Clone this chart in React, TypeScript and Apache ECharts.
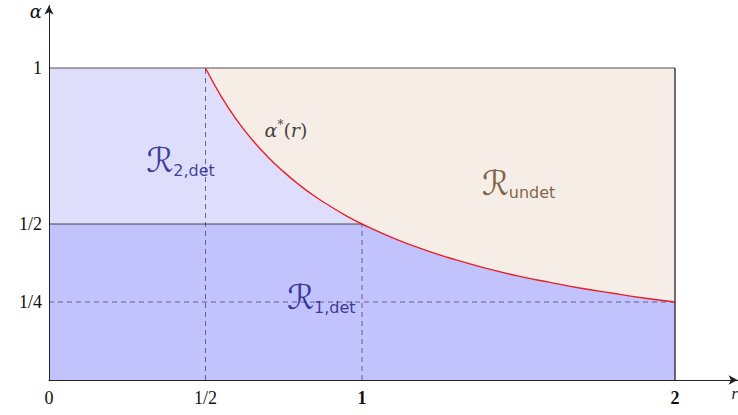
import React, { useEffect, useRef } from 'react';
import * as echarts from 'echarts';

// Threshold curve alpha*(r)
const rValues = [0.5, 0.55, 0.6, 0.65, 0.7, 0.75, 0.8, 0.85, 0.9, 0.95, 1, 1.1, 1.2, 1.3, 1.4, 1.5, 1.6, 1.7, 1.8, 1.9, 2];
const alphaStar = [1, 0.909, 0.833, 0.769, 0.714, 0.667, 0.625, 0.588, 0.556, 0.526, 0.5, 0.455, 0.417, 0.385, 0.357, 0.333, 0.313, 0.294, 0.278, 0.263, 0.25];

// Boundaries (data units)
const rMax = 2;
const rHalf = 0.5;
const rOne = 1;
const alphaTop = 1;
const alphaHalf = 0.5;
const alphaQuarter = 0.25;

// Tick labels
const xTickLabels: Record<string, string> = { '0': '0', '0.5': '1/2', '1': '{b|1}', '2': '{b|2}' };
const yTickLabels: Record<string, string> = { '0.25': '1/4', '0.5': '1/2', '1': '1' };

// Annotation anchors (data units)
const labelR2 = [0.42, 0.705];
const labelUndet = [1.5, 0.632];
const labelR1 = [0.87, 0.266];
const labelAlpha = [0.757, 0.8];

const SERIF = "'Liberation Serif', 'DejaVu Serif', serif";
const SERIF2 = "'DejaVu Serif', 'Liberation Serif', serif";
const SANS = "'DejaVu Sans', 'Noto Sans', sans-serif";
const SCRIPT = "'DejaVu Sans', 'DejaVu Serif', sans-serif";

export default function App() {
  const ref = useRef<HTMLDivElement>(null);
  useEffect(() => {
    if (!ref.current) return;
    const chart = echarts.init(ref.current, undefined, { renderer: 'svg' });
    const curve = rValues.map((r, i) => [r, alphaStar[i]]);
    const upperCurve = curve.filter((p) => p[0] <= rOne);
    const lowerCurve = curve.filter((p) => p[0] >= rOne);

    const lineBase = { type: 'line', showSymbol: false, symbol: 'none', silent: true, animation: false };
    const dashed = { color: '#55557a', width: 0.9, type: [5, 4] };

    const regionLabel = (sub: string, color: string) => ({
      show: true,
      position: 'inside',
      formatter: `{R|ℛ}{s|${sub}}`,
      rich: {
        R: { fontFamily: SCRIPT, fontSize: 34, color, lineHeight: 36 },
        s: { fontFamily: SANS, fontSize: 16, color, lineHeight: 15, verticalAlign: 'bottom' },
      },
    });

    chart.setOption({
      animation: false,
      grid: { left: 49, right: 0.4, top: 5.6, bottom: 35, containLabel: false, outerBoundsMode: 'none' },
      xAxis: {
        type: 'value', min: 0, max: 2.2, interval: 0.5, z: 10,
        splitLine: { show: false }, axisTick: { show: false },
        axisLine: { show: true, lineStyle: { color: '#222', width: 1 }, symbol: ['none', 'arrow'], symbolSize: [7, 9] },
        axisLabel: {
          margin: 9, fontFamily: SERIF, fontSize: 18, color: '#111',
          formatter: (v: number) => xTickLabels[String(v)] ?? '',
          rich: { b: { fontFamily: SERIF, fontSize: 18, fontWeight: 'bold', color: '#111' } },
        },
        name: 'r', nameLocation: 'end', nameGap: -3,
        nameTextStyle: { fontFamily: SERIF, fontStyle: 'italic', fontSize: 16, color: '#111', align: 'center', verticalAlign: 'top', padding: [5, 0, 0, 0] },
      },
      yAxis: {
        type: 'value', min: 0, max: 1.2, interval: 0.25, z: 10,
        splitLine: { show: false }, axisTick: { show: false },
        axisLine: { show: true, lineStyle: { color: '#222', width: 1 }, symbol: ['none', 'arrow'], symbolSize: [7, 9] },
        axisLabel: {
          margin: 7, fontFamily: SERIF, fontSize: 18, color: '#111',
          formatter: (v: number) => yTickLabels[String(v)] ?? '',
        },
        name: 'α', nameLocation: 'end', nameGap: -6,
        nameTextStyle: { fontFamily: SERIF2, fontStyle: 'italic', fontSize: 18, color: '#111', align: 'right', verticalAlign: 'middle', padding: [0, 7, 0, 0] },
      },
      series: [
        { ...lineBase, z: 1, data: [[rHalf, alphaTop], [rMax, alphaTop]], lineStyle: { width: 0 }, areaStyle: { color: '#f6ede6', opacity: 1 } },
        { ...lineBase, z: 2, data: [[0, alphaTop], [rHalf, alphaTop], ...upperCurve], lineStyle: { width: 0 }, areaStyle: { color: '#dedefc', opacity: 1 } },
        { ...lineBase, z: 3, data: [[0, alphaHalf], [rOne, alphaHalf], ...lowerCurve], lineStyle: { width: 0 }, areaStyle: { color: '#c2c2fc', opacity: 1 } },
        { ...lineBase, z: 4, data: [[0, alphaQuarter], [rMax, alphaQuarter]], lineStyle: dashed },
        { ...lineBase, z: 4, data: [[rHalf, 0], [rHalf, alphaTop]], lineStyle: dashed },
        { ...lineBase, z: 4, data: [[rOne, 0], [rOne, alphaHalf]], lineStyle: dashed },
        { ...lineBase, z: 5, data: [[0, alphaHalf], [rOne, alphaHalf]], lineStyle: { color: '#333', width: 0.9 } },
        { ...lineBase, z: 5, data: [[0, alphaTop], [rMax, alphaTop]], lineStyle: { color: '#555', width: 1.2 } },
        { ...lineBase, z: 5, data: [[rMax, 0], [rMax, alphaTop]], lineStyle: { color: '#222', width: 1.3 } },
        { ...lineBase, z: 6, data: curve, smooth: true, lineStyle: { color: '#e8202a', width: 1.4 } },
        {
          type: 'scatter', z: 7, silent: true, symbolSize: 0,
          data: [
            { value: labelR2, label: regionLabel('2,det', '#14147f') },
            { value: labelUndet, label: regionLabel('undet', '#5e3f20') },
            { value: labelR1, label: regionLabel('1,det', '#14147f') },
            {
              value: labelAlpha,
              label: {
                show: true, position: 'inside',
                formatter: '{i|α}{p|*}{n|(}{i|r}{n|)}',
                rich: {
                  i: { fontFamily: SERIF2, fontStyle: 'italic', fontSize: 19, color: '#111', lineHeight: 22 },
                  n: { fontFamily: SERIF2, fontSize: 19, color: '#111', lineHeight: 22 },
                  p: { fontFamily: SERIF2, fontSize: 12, color: '#111', lineHeight: 12, verticalAlign: 'top' },
                },
              },
            },
          ],
        },
      ],
    });
    return () => chart.dispose();
  }, []);
  return <div ref={ref} style={{ position: 'absolute', left: 0, top: 0, width: 738, height: 415 }} />;
}
